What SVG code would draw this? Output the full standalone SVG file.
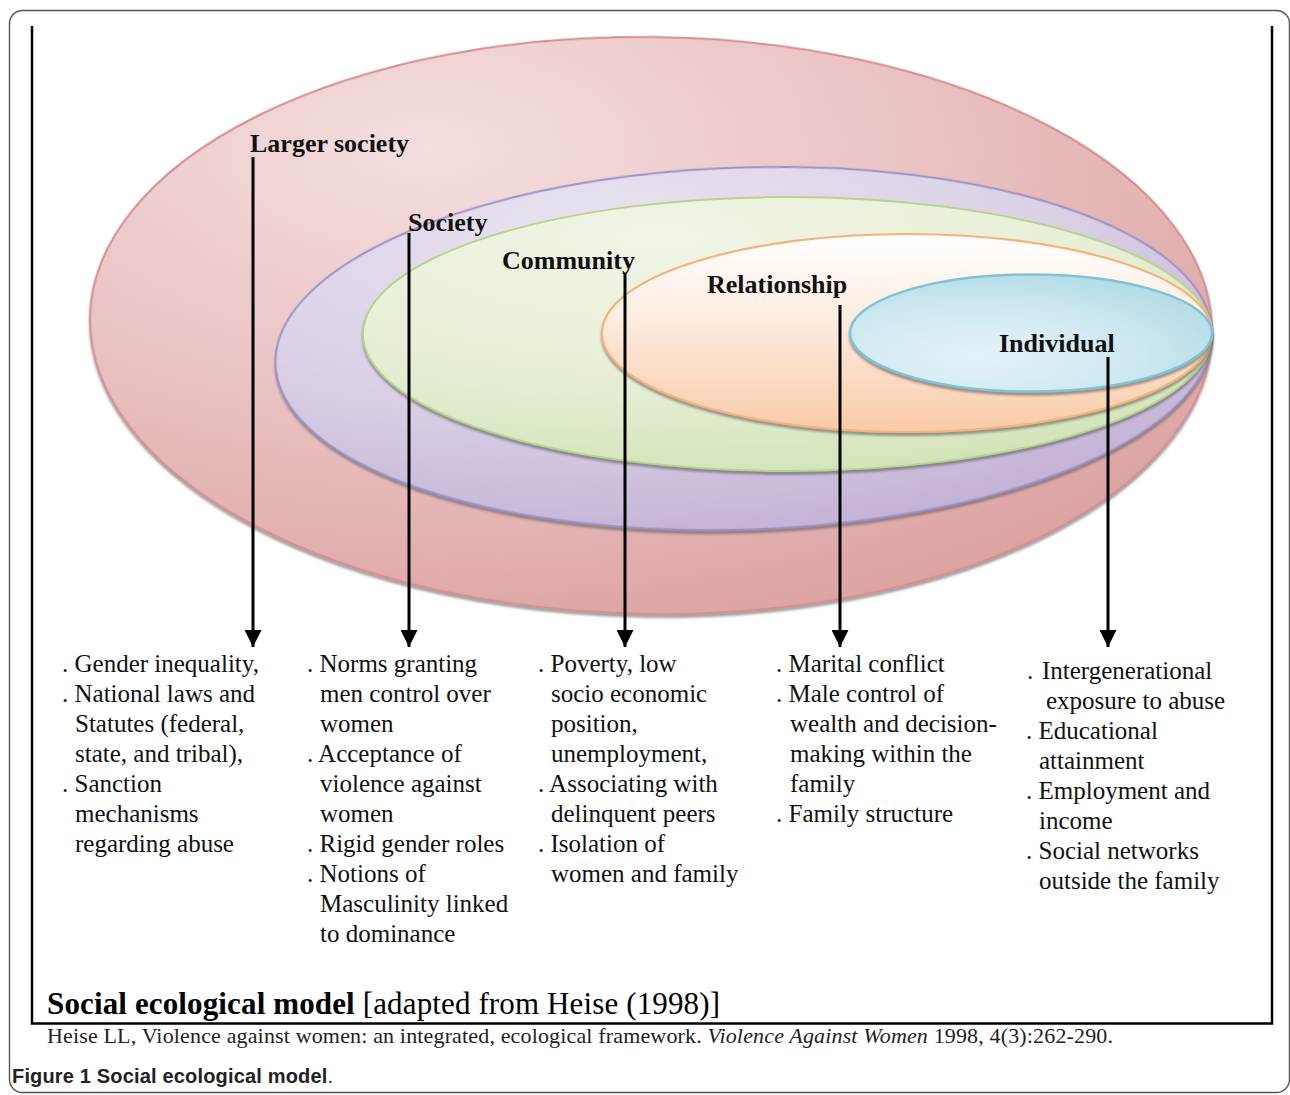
<svg xmlns="http://www.w3.org/2000/svg" width="1290" height="1095" viewBox="0 0 1290 1095">
<defs>
<style>
.lbl{font-family:"Liberation Serif",serif;font-size:26px;font-weight:bold;fill:#111}
.b{font-family:"Liberation Serif",serif;font-size:25px;fill:#111}
.arr{stroke:#000;stroke-width:3;fill:none;marker-end:url(#ah)}
.frame{stroke:#000;stroke-width:2.5;fill:none}
</style>
<marker id="ah" markerUnits="userSpaceOnUse" markerWidth="17" markerHeight="17" refX="17" refY="8.5" orient="auto" viewBox="0 0 17 17">
<path d="M0,0 L17,8.5 L0,17 Z" fill="#000"/>
</marker>
<radialGradient id="gRed" cx="0.3" cy="0.2" r="0.95">
<stop offset="0" stop-color="#f4dede"/><stop offset="0.5" stop-color="#e9c0c0"/><stop offset="1" stop-color="#da9c9c"/>
</radialGradient>
<radialGradient id="gPur" cx="0.35" cy="0.15" r="0.95">
<stop offset="0" stop-color="#e8e2ef"/><stop offset="0.5" stop-color="#dad1e6"/><stop offset="1" stop-color="#bfaed3"/>
</radialGradient>
<radialGradient id="gGrn" cx="0.35" cy="0.15" r="0.95">
<stop offset="0" stop-color="#f0f5e6"/><stop offset="0.55" stop-color="#e6efd5"/><stop offset="1" stop-color="#cfe1b3"/>
</radialGradient>
<linearGradient id="gOrg" x1="0" y1="0" x2="0" y2="1">
<stop offset="0" stop-color="#fffefd"/><stop offset="0.35" stop-color="#fdf0e6"/><stop offset="1" stop-color="#f9cba8"/>
</linearGradient>
<radialGradient id="gBlu" cx="0.35" cy="0.7" r="0.9">
<stop offset="0" stop-color="#e4f2f7"/><stop offset="0.5" stop-color="#cde8f0"/><stop offset="1" stop-color="#a6d5e2"/>
</radialGradient>
<filter id="sh" x="-5%" y="-5%" width="110%" height="115%">
<feDropShadow dx="0" dy="3" stdDeviation="1.2" flood-color="#555" flood-opacity="0.55"/>
</filter>
</defs>
<rect x="9.5" y="10.5" width="1280" height="1082" rx="13" fill="#fff" stroke="#555" stroke-width="1.4"/>
<g id="frame">
<path class="frame" d="M32,26 V1023.5 H1272 V26"/>
</g>
<g id="node-larger-society">
<ellipse cx="651" cy="333" rx="561" ry="288.5" transform="rotate(0.77 1212 333)" fill="url(#gRed)" stroke="#d68e8e" stroke-width="2" filter="url(#sh)"/>
<text class="lbl" x="250" y="152">Larger society</text>
</g>
<g id="node-society">
<ellipse cx="743.5" cy="333" rx="468.5" ry="181" transform="rotate(-1.9 1212 333)" fill="url(#gPur)" stroke="#9c92c8" stroke-width="2" filter="url(#sh)"/>
<text class="lbl" x="408" y="231">Society</text>
</g>
<g id="node-community">
<ellipse cx="787.5" cy="334" rx="424.5" ry="137" fill="url(#gGrn)" stroke="#b7d38c" stroke-width="2" filter="url(#sh)"/>
<text class="lbl" x="502" y="269">Community</text>
</g>
<g id="node-relationship">
<ellipse cx="907" cy="333" rx="305" ry="99" fill="url(#gOrg)" stroke="#f7b27b" stroke-width="2.2" filter="url(#sh)"/>
<text class="lbl" x="707" y="293">Relationship</text>
</g>
<g id="node-individual">
<ellipse cx="1031" cy="333" rx="181" ry="58.5" fill="url(#gBlu)" stroke="#7ec4d6" stroke-width="2.5" filter="url(#sh)"/>
<text class="lbl" x="999" y="352">Individual</text>
</g>
<g id="connectors">
<line class="arr" x1="253" y1="157" x2="253" y2="647"/>
<line class="arr" x1="409" y1="233" x2="409" y2="647"/>
<line class="arr" x1="625" y1="273" x2="625" y2="647"/>
<line class="arr" x1="840" y1="305" x2="840" y2="647"/>
<line class="arr" x1="1108" y1="357" x2="1108" y2="647"/>
</g>
<g id="node-list-larger-society">
<text class="b" x="62" y="672">. Gender inequality,</text>
<text class="b" x="62" y="702">. National laws and</text>
<text class="b" x="75" y="732">Statutes (federal,</text>
<text class="b" x="75" y="762">state, and tribal),</text>
<text class="b" x="62" y="792">. Sanction</text>
<text class="b" x="75" y="822">mechanisms</text>
<text class="b" x="75" y="852">regarding abuse</text>
</g>
<g id="node-list-society">
<text class="b" x="307" y="672">. Norms granting</text>
<text class="b" x="320" y="702">men control over</text>
<text class="b" x="320" y="732">women</text>
<text class="b" x="307" y="762">. Acceptance of</text>
<text class="b" x="320" y="792">violence against</text>
<text class="b" x="320" y="822">women</text>
<text class="b" x="307" y="852">. Rigid gender roles</text>
<text class="b" x="307" y="882">. Notions of</text>
<text class="b" x="320" y="912">Masculinity linked</text>
<text class="b" x="320" y="942">to dominance</text>
</g>
<g id="node-list-community">
<text class="b" x="538" y="672">. Poverty, low</text>
<text class="b" x="551" y="702">socio economic</text>
<text class="b" x="551" y="732">position,</text>
<text class="b" x="551" y="762">unemployment,</text>
<text class="b" x="538" y="792">. Associating with</text>
<text class="b" x="551" y="822">delinquent peers</text>
<text class="b" x="538" y="852">. Isolation of</text>
<text class="b" x="551" y="882">women and family</text>
</g>
<g id="node-list-relationship">
<text class="b" x="776" y="672">. Marital conflict</text>
<text class="b" x="776" y="702">. Male control of</text>
<text class="b" x="790" y="732">wealth and decision-</text>
<text class="b" x="790" y="762">making within the</text>
<text class="b" x="790" y="792">family</text>
<text class="b" x="776" y="822">. Family structure</text>
</g>
<g id="node-list-individual">
<text class="b" x="1027" y="679">.</text>
<text class="b" x="1042" y="679">Intergenerational</text>
<text class="b" x="1046" y="709">exposure to abuse</text>
<text class="b" x="1026" y="739">. Educational</text>
<text class="b" x="1039" y="769">attainment</text>
<text class="b" x="1026" y="799">. Employment and</text>
<text class="b" x="1039" y="829">income</text>
<text class="b" x="1026" y="859">. Social networks</text>
<text class="b" x="1039" y="889">outside the family</text>
</g>
<g id="caption">
<text x="47" y="1014" font-family="Liberation Serif, serif" font-size="31" fill="#000" textLength="673"><tspan font-weight="bold">Social ecological model</tspan> [adapted from Heise (1998)]</text>
<text x="47" y="1043" font-family="Liberation Serif, serif" font-size="22" fill="#222" textLength="1066">Heise LL, Violence against women: an integrated, ecological framework. <tspan font-style="italic">Violence Against Women</tspan> 1998, 4(3):262-290.</text>
<text x="12" y="1083" font-family="Liberation Sans, sans-serif" font-size="20" fill="#222" textLength="321"><tspan font-weight="bold">Figure 1 Social ecological model</tspan>.</text>
</g>
</svg>
